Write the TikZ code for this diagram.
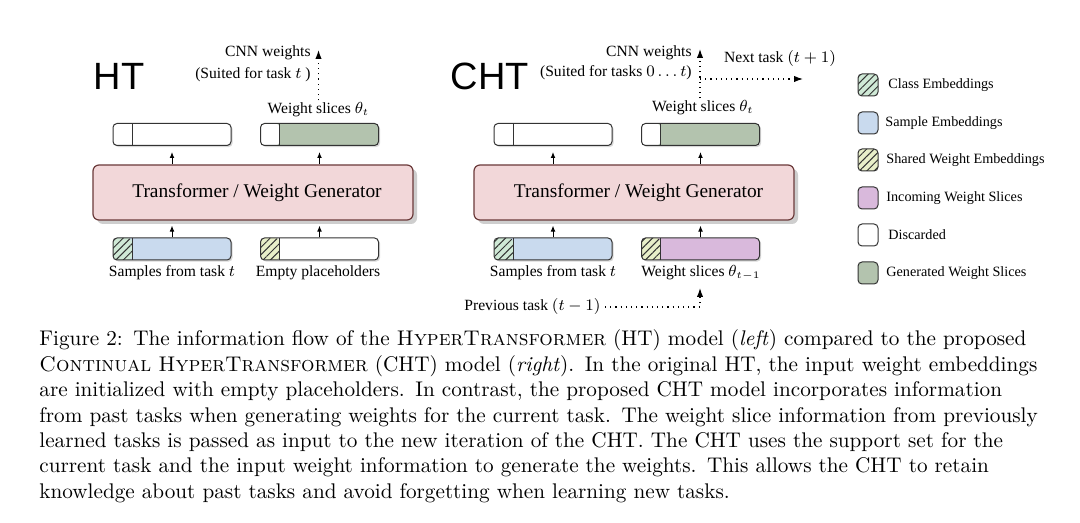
\documentclass[tikz,border=0pt]{standalone}
\usepackage{fontspec}
\newfontfamily\dfont{Liberation Serif}
\newfontfamily\hfont{Liberation Sans}
\usetikzlibrary{shadows,patterns.meta,arrows.meta}
\definecolor{clsC}{HTML}{CFE9D6}
\definecolor{smpC}{HTML}{C9DAEE}
\definecolor{shdC}{HTML}{E8EFC9}
\definecolor{incC}{HTML}{D9B9DC}
\definecolor{genC}{HTML}{B3C3AE}
\definecolor{tfF}{HTML}{F2D7D9}
\definecolor{tfB}{HTML}{6B3A3A}
\definecolor{edgeC}{HTML}{333333}
\begin{document}
\begin{tikzpicture}[x=0.5pt,y=-0.5pt,
  slot/.style={draw=edgeC, line width=0.5pt, rounded corners=2pt, minimum width=59pt, minimum height=11pt, inner sep=0pt,
    drop shadow={shadow xshift=0.8pt,shadow yshift=-0.8pt,fill=black!30,opacity=.5}},
  pre/.style={path picture={
    \fill[#1] (path picture bounding box.north west) rectangle ([xshift=9.5pt]path picture bounding box.south west);
    \draw[edgeC,line width=0.5pt] ([xshift=9.5pt]path picture bounding box.north west) -- ([xshift=9.5pt]path picture bounding box.south west);}},
  prehatch/.style={path picture={
    \fill[#1] (path picture bounding box.north west) rectangle ([xshift=9.5pt]path picture bounding box.south west);
    \fill[pattern={Lines[angle=45,distance=2.6pt,line width=0.5pt]},pattern color=edgeC] (path picture bounding box.north west) rectangle ([xshift=9.5pt]path picture bounding box.south west);
    \draw[edgeC,line width=0.5pt] ([xshift=9.5pt]path picture bounding box.north west) -- ([xshift=9.5pt]path picture bounding box.south west);}},
  tf/.style={draw=tfB, fill=tfF, line width=0.6pt, rounded corners=3pt, minimum width=160pt, minimum height=27.5pt, inner sep=0pt,
    font=\dfont\fontsize{9.7}{11}\selectfont,
    drop shadow={shadow xshift=2pt,shadow yshift=-2pt,fill=black!35,opacity=.55}},
  lbl/.style={font=\dfont\fontsize{7.8}{9}\selectfont, inner sep=0pt},
  big/.style={font=\hfont\fontsize{19}{22}\selectfont, inner sep=0pt},
  arr/.style={-{Latex[length=3pt,width=2.4pt]}, line width=0.5pt, black},
  dotarr/.style={dotted, line width=0.6pt, -{Latex[length=4.5pt,width=3.2pt]}, black},
  sw/.style={draw=edgeC, line width=0.5pt, rounded corners=2pt, minimum width=10pt, minimum height=11pt, inner sep=0pt},
  hatchy/.style={postaction={pattern={Lines[angle=45,distance=2.6pt,line width=0.5pt]},pattern color=edgeC}},
  lgd/.style={font=\dfont\fontsize{7.1}{8.5}\selectfont, anchor=west, inner sep=0pt}
]
\useasboundingbox[fill=white] (0,0) rectangle (1080,523);

% ---------------- HT (left) ----------------
\node[big] (ht) at (119,76) {HT};
\node[slot, fill=white, pre=white] (lo1) at (172,134.5) {};
\node[slot, fill=genC, pre=white] (lo2) at (319.5,134.5) {};
\node[tf] (ltf) at (253,192.5) {\hspace*{4pt}Transformer / Weight Generator};
\node[slot, fill=smpC, prehatch=clsC] (li1) at (172,249) {};
\node[slot, fill=white, prehatch=shdC] (li2) at (319.5,249) {};
\draw[arr, shorten >=3pt] (ltf.north -| lo1.south) -- (lo1.south);
\draw[arr, shorten >=3pt] (ltf.north -| lo2.south) -- (lo2.south);
\draw[arr, shorten >=2.5pt] (li1.north) -- (li1.north |- ltf.south);
\draw[arr, shorten >=2.5pt] (li2.north) -- (li2.north |- ltf.south);
\node[lbl] (ls1) at (172,273) {Samples from task $t$};
\node[lbl] (ls2) at (318,273) {Empty placeholders};
\node[lbl] (lws) at (318.5,110) {Weight slices $\theta_t$};
\node[lbl, anchor=east] (lcnn1) at (311,53) {CNN weights};
\node[lbl, anchor=east] (lcnn2) at (311,75) {(Suited for task $t$\ )};
\coordinate (ltop) at (318.5,50);
\draw[dotarr, shorten <=1pt] (lws.north -| ltop) -- (ltop);

% ---------------- CHT (right) ----------------
\node[big] (cht) at (490,76) {CHT};
\node[slot, fill=white, pre=white] (ro1) at (553,134.5) {};
\node[slot, fill=genC, pre=white] (ro2) at (700.5,134.5) {};
\node[tf] (rtf) at (634,192.5) {\hspace*{4.5pt}Transformer / Weight Generator};
\node[slot, fill=smpC, prehatch=clsC] (ri1) at (553,249) {};
\node[slot, fill=incC, prehatch=shdC] (ri2) at (700.5,249) {};
\draw[arr, shorten >=3pt] (rtf.north -| ro1.south) -- (ro1.south);
\draw[arr, shorten >=3pt] (rtf.north -| ro2.south) -- (ro2.south);
\draw[arr, shorten >=2.5pt] (ri1.north) -- (ri1.north |- rtf.south);
\draw[arr, shorten >=2.5pt] (ri2.north) -- (ri2.north |- rtf.south);
\node[lbl] (rs1) at (553,273) {Samples from task $t$};
\node[lbl] (rs2) at (701,273) {Weight slices $\theta_{t-1}$};
\node[lbl] (rws) at (703,108) {Weight slices $\theta_t$};
\node[lbl, anchor=east] (rcnn1) at (692,53) {CNN weights};
\node[lbl, anchor=east] (rcnn2) at (692,73) {(Suited for tasks $0\ldots t$)};
\coordinate (rtop) at (700,49);
\draw[dotarr, shorten <=1pt] (rws.north -| rtop) -- (rtop);
\coordinate (rbr) at (700,79);
\coordinate (rnext) at (803,79);
\draw[dotarr] (rbr) -- (rnext);
\node[lbl] (rnt) at (780,59) {Next task $(t+1)$};
\node[lbl, anchor=east] (rprev) at (601,307) {Previous task $(t-1)$};
\coordinate (rup) at (700,288);
\draw[dotarr] ([xshift=2pt]rprev.east) -| (rup);

% ---------------- legend ----------------
\node[sw, fill=clsC, hatchy] (k1) at (868,85) {};
\node[sw, fill=smpC] (k2) at (868,123) {};
\node[sw, fill=shdC, hatchy] (k3) at (868,160) {};
\node[sw, fill=incC] (k4) at (868,198) {};
\node[sw, fill=white] (k5) at (868,235) {};
\node[sw, fill=genC] (k6) at (868,273) {};
\node[lgd] (t1) at (888,85) {Class Embeddings};
\node[lgd] (t2) at (885,123) {Sample Embeddings};
\node[lgd] (t3) at (886,160) {Shared Weight Embeddings};
\node[lgd] (t4) at (886,198) {Incoming Weight Slices};
\node[lgd] (t5) at (888,235) {Discarded};
\node[lgd] (t6) at (886,273) {Generated Weight Slices};

% ---------------- caption ----------------
\node[anchor=north west, inner sep=0pt, text width=504pt,
      font=\fontsize{10.6}{12.7}\selectfont] (cap) at (39,329.5) {%
\hbox to 504pt{Figure 2: The information flow of the \textsc{HyperTransformer} (HT) model (\textit{left}) compared to the proposed}
\hbox to 504pt{\textsc{Continual HyperTransformer} (CHT) model (\textit{right}). In the original HT, the input weight embeddings}
\hbox to 504pt{are initialized with empty placeholders. In contrast, the proposed CHT model incorporates information}
\hbox to 504pt{from past tasks when generating weights for the current task. The weight slice information from previously}
\hbox to 504pt{learned tasks is passed as input to the new iteration of the CHT. The CHT uses the support set for the}
\hbox to 504pt{current task and the input weight information to generate the weights. This allows the CHT to retain}
\hbox{knowledge about past tasks and avoid forgetting when learning new tasks.}};
\end{tikzpicture}
\end{document}
